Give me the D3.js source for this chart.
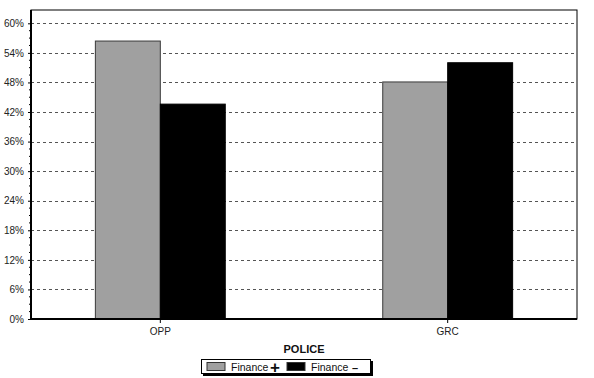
<!DOCTYPE html>
<html>
<head>
<meta charset="utf-8">
<script src="https://cdn.jsdelivr.net/npm/d3@7"></script>
<style>
  body { margin: 0; background: #fff; }
  svg { display: block; font-family: "Liberation Sans", Arial, sans-serif; }
</style>
</head>
<body>
<svg id="chart"></svg>
<script>
const categories = ["OPP", "GRC"];
const seriesNames = ["Finance+", "Finance\u2013"];
const financePlus = [56.4, 48.1];
const financeMinus = [43.6, 52.0];
const yTicks = [0, 6, 12, 18, 24, 30, 36, 42, 48, 54, 60];

const width = 594, height = 378;
const margin = { top: 10, right: 17, bottom: 59, left: 31 };
const innerW = width - margin.left - margin.right;
const innerH = height - margin.top - margin.bottom;

const svg = d3.select("#chart").attr("width", width).attr("height", height);
const g = svg.append("g").attr("transform", `translate(${margin.left},${margin.top})`);

const x = d3.scaleBand().domain(categories).range([0, innerW])
  .paddingInner(0.548).paddingOuter(0.224);
const xSub = d3.scaleBand().domain(seriesNames).range([0, x.bandwidth()]);
const y = d3.scaleLinear().domain([0, 62.7]).range([innerH, 0]);
const colors = d3.scaleOrdinal().domain(seriesNames).range(["#a0a0a0", "#000000"]);

// frame
g.append("rect").attr("width", innerW).attr("height", innerH)
  .attr("fill", "#fff").attr("stroke", "#000").attr("stroke-width", 1);

// gridlines
g.selectAll(".grid").data(yTicks.filter(d => d > 0)).join("line")
  .attr("x1", 0).attr("x2", innerW)
  .attr("y1", d => Math.round(y(d)) + 0.5).attr("y2", d => Math.round(y(d)) + 0.5)
  .attr("stroke", "#555").attr("stroke-dasharray", "3,3");

// bars
const rows = categories.map((c, i) => ({ cat: c, vals: [financePlus[i], financeMinus[i]] }));
const grp = g.selectAll(".barGroup").data(rows).join("g")
  .attr("transform", d => `translate(${x(d.cat)},0)`);
grp.selectAll("rect").data(d => d.vals.map((v, j) => ({ name: seriesNames[j], v })))
  .join("rect")
  .attr("x", d => xSub(d.name))
  .attr("y", d => y(d.v))
  .attr("width", xSub.bandwidth())
  .attr("height", d => innerH - y(d.v))
  .attr("fill", d => colors(d.name))
  .attr("stroke", d => d.name === seriesNames[0] ? "#3a3a3a" : "#000")
  .attr("stroke-width", 1);

// y axis minor ticks
const minor = d3.range(0, 61, 1.5).filter(v => !yTicks.includes(v));
g.selectAll(".minor").data(minor).join("line")
  .attr("x1", -2).attr("x2", 0)
  .attr("y1", d => y(d)).attr("y2", d => y(d))
  .attr("stroke", "#000");

const yAxis = g.append("g")
  .call(d3.axisLeft(y).tickValues(yTicks).tickFormat(d => d + "%").tickSize(3).tickPadding(4));
yAxis.select(".domain").remove();
yAxis.selectAll("text").attr("font-size", 10).attr("fill", "#222").attr("font-family", "Liberation Sans, Arial, sans-serif");

// thick left and bottom axes
g.append("line").attr("x1", 0).attr("x2", 0).attr("y1", 0).attr("y2", innerH)
  .attr("stroke", "#000").attr("stroke-width", 2);
g.append("line").attr("x1", -1).attr("x2", innerW).attr("y1", innerH).attr("y2", innerH)
  .attr("stroke", "#000").attr("stroke-width", 2);

const xAxis = g.append("g").attr("transform", `translate(0,${innerH})`)
  .call(d3.axisBottom(x).tickSize(4).tickPadding(5));
xAxis.select(".domain").remove();
xAxis.selectAll("text").attr("font-size", 10).attr("fill", "#222").attr("font-family", "Liberation Sans, Arial, sans-serif");

// axis title
svg.append("text").attr("x", margin.left + innerW / 2).attr("y", 353)
  .attr("text-anchor", "middle").attr("font-size", 11).attr("font-weight", "bold")
  .attr("fill", "#111").text("POLICE");

// legend
const lg = svg.append("g").attr("transform", "translate(201,359)");
lg.append("rect").attr("x", 2).attr("y", 2).attr("width", 170).attr("height", 15).attr("fill", "#000");
lg.append("rect").attr("x", 0.5).attr("y", 0.5).attr("width", 169).attr("height", 14)
  .attr("fill", "#fff").attr("stroke", "#000");
const items = lg.selectAll(".item").data(seriesNames).join("g")
  .attr("transform", (d, i) => `translate(${6 + i * 80},3)`);
items.append("rect").attr("width", 18).attr("height", 8).attr("y", 0.5)
  .attr("fill", d => colors(d)).attr("stroke", "#333");
items.append("text").attr("x", 24).attr("y", 9).attr("font-size", 10.5).attr("fill", "#111")
  .text("Finance");
items.append("text").attr("x", (d, i) => i === 0 ? 63 : 65).attr("y", (d, i) => i === 0 ? 11 : 9.5)
  .attr("font-size", (d, i) => i === 0 ? 17 : 11).attr("font-weight", "bold").attr("fill", "#111")
  .text((d, i) => i === 0 ? "+" : "\u2013");
</script>
</body>
</html>
